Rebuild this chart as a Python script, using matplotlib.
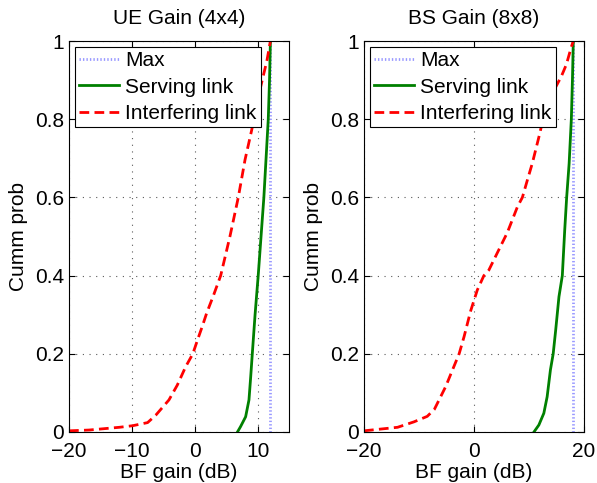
import matplotlib
matplotlib.use("Agg")
import matplotlib.pyplot as plt

plt.rcParams['font.family'] = ['Liberation Sans', 'DejaVu Sans']

# Data
ue_max = 12.04
ue_serv_x = [6.8, 7.3, 8.1, 8.63, 8.9, 9.16, 9.6, 10.1, 10.55, 11.0, 11.35, 11.7, 11.9, 12.04]
ue_serv_p = [0.0, 0.014, 0.039, 0.082, 0.14, 0.2, 0.3, 0.4, 0.5, 0.6, 0.7, 0.8, 0.9, 1.0]
ue_int_x = [-20, -16.8, -12.0, -9.9, -7.5, -6.2, -4.1, -2.77, -1.44, -0.3, 0.5, 1.2, 1.9, 3.0,
            4.13, 5.6, 6.93, 8.0, 9.06, 10.3, 11.5, 12.04]
ue_int_p = [0.003, 0.005, 0.012, 0.016, 0.024, 0.043, 0.082, 0.12, 0.167, 0.2, 0.238, 0.27, 0.304, 0.35,
            0.4, 0.5, 0.6, 0.696, 0.772, 0.87, 0.951, 1.0]

bs_max = 18.06
bs_serv_x = [10.9, 11.8, 12.7, 13.3, 13.9, 14.4, 14.85, 15.45, 16.06, 16.5, 16.85, 17.3, 17.7, 17.9, 18.06]
bs_serv_p = [0.0, 0.018, 0.048, 0.09, 0.159, 0.2, 0.26, 0.346, 0.4, 0.517, 0.6, 0.687, 0.8, 0.9, 1.0]
bs_int_x = [-20, -13.9, -10.9, -8.5, -7.2, -5.15, -3.9, -2.7, -1.8, -0.6, 0.6, 1.8, 2.7, 4.2, 6.06,
            7.9, 8.8, 9.7, 10.6, 11.9, 12.8, 14.4, 15.9, 16.8, 17.7, 18.06]
bs_int_p = [0.003, 0.012, 0.026, 0.04, 0.058, 0.116, 0.159, 0.2, 0.244, 0.31, 0.363, 0.4, 0.414, 0.457, 0.51,
            0.576, 0.6, 0.644, 0.687, 0.76, 0.815, 0.87, 0.91, 0.94, 0.985, 1.0]

titles = ["UE Gain (4x4)", "BS Gain (8x8)"]
xlims = [(-20, 15), (-20, 20)]
xticks = [[-20, -10, 0, 10], [-20, 0, 20]]
yticks = [0, 0.2, 0.4, 0.6, 0.8, 1]
ytick_labels = ["0", "0.2", "0.4", "0.6", "0.8", "1"]
legend_labels = ["Max", "Serving link", "Interfering link"]

fig = plt.figure(figsize=(5.97, 4.83), dpi=100)
positions = [[0.1156, 0.1056, 0.3685, 0.8095], [0.6097, 0.1056, 0.3685, 0.8095]]

datasets = [
    (ue_max, ue_serv_x, ue_serv_p, ue_int_x, ue_int_p),
    (bs_max, bs_serv_x, bs_serv_p, bs_int_x, bs_int_p),
]

fs = 15
for i, (mx, sx, sp, ix, ip) in enumerate(datasets):
    ax = fig.add_axes(positions[i])
    ax.plot([mx, mx], [0, 1], linestyle=(0, (0.5, 0.75)), color=(0.6, 0.6, 1.0), lw=2,
            label=legend_labels[0])
    ax.plot(sx, sp, '-', color=(0, 0.5, 0), lw=2, label=legend_labels[1])
    ax.plot(ix, ip, '--', color='red', lw=2, dashes=(3.5, 1.9), label=legend_labels[2])
    ax.set_xlim(*xlims[i])
    ax.set_ylim(0, 1)
    ax.set_xticks(xticks[i])
    ax.set_yticks(yticks)
    ax.set_yticklabels(ytick_labels)
    ax.grid(True, linestyle=(0, (1, 5)), color='0.35', lw=0.8)
    ax.tick_params(axis='both', direction='in', top=True, right=True, labelsize=fs, length=4)
    ax.tick_params(axis='x', pad=7)
    ax.set_title(titles[i], fontsize=fs, pad=12)
    ax.set_xlabel("BF gain (dB)", fontsize=fs, labelpad=2)
    ax.set_ylabel("Cumm prob", fontsize=fs, labelpad=5)
    for s in ax.spines.values():
        s.set_linewidth(0.8)
    leg = ax.legend(loc='upper left', fontsize=fs, fancybox=False, framealpha=1,
                    edgecolor='black', borderpad=0.2, labelspacing=0.35,
                    handlelength=1.9, handletextpad=0.3, borderaxespad=0.3)
    leg.get_frame().set_linewidth(0.8)

fig.savefig("out.png", dpi=100)
